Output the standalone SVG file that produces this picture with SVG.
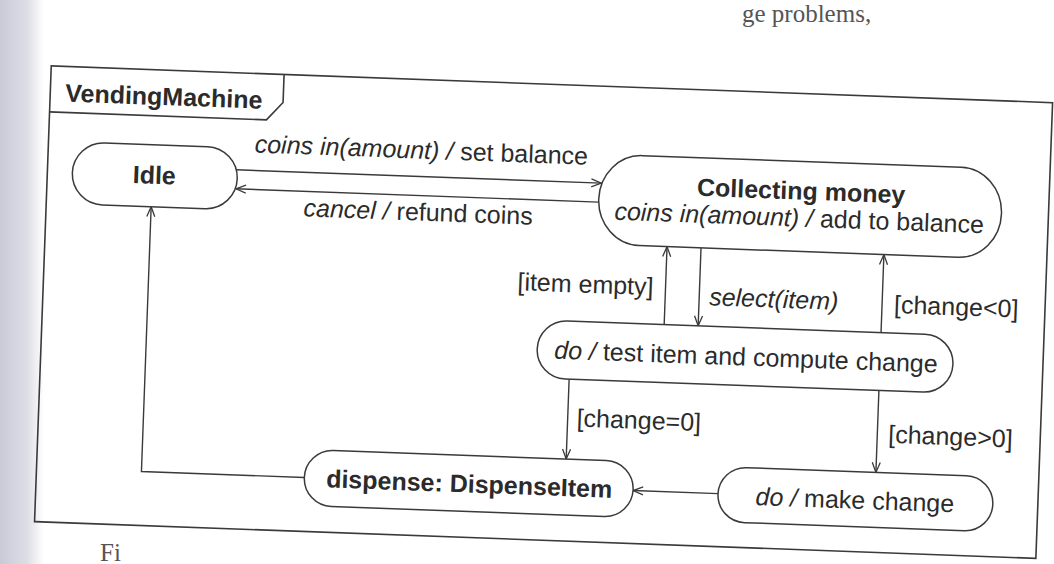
<svg xmlns="http://www.w3.org/2000/svg" width="1054" height="564" viewBox="0 0 1054 564">
<defs>
  <linearGradient id="shade" x1="0" x2="1" y1="0" y2="0">
    <stop offset="0" stop-color="#c9cad6"/>
    <stop offset="0.6" stop-color="#dcdde5"/>
    <stop offset="1" stop-color="#ffffff"/>
  </linearGradient>
  <marker id="arr" viewBox="0 0 12 10" refX="11" refY="5" markerWidth="12" markerHeight="10" markerUnits="userSpaceOnUse" orient="auto">
    <path d="M1,1 L11,5 L1,9" fill="none" stroke="#3a3a3a" stroke-width="1.3"/>
  </marker>
</defs>
<style>
  .frame{fill:none;stroke:#3a3a3a;stroke-width:1.6}
  .state{fill:#fff;stroke:#3a3a3a;stroke-width:1.5}
  .edge{fill:none;stroke:#3a3a3a;stroke-width:1.4;marker-end:url(#arr)}
  text{font-family:"Liberation Sans",Arial,Helvetica,sans-serif;font-size:25px;fill:#2b2b2b}
  .b{font-weight:bold}
  .i{font-style:italic}
  .c{text-anchor:middle}
  .e{text-anchor:end}
  .page{font-family:"Liberation Serif","Times New Roman",serif;fill:#555}
</style>
<rect width="1054" height="564" fill="#ffffff"/>
<rect x="0" y="0" width="44" height="564" fill="url(#shade)"/>
<text class="page" x="742" y="22" font-size="22">ge problems,</text>
<text class="page" x="100" y="561" font-size="20">Fi</text>
<g transform="rotate(2.1 540 300)">
  <g id="frame">
    <rect class="frame" x="43" y="84" width="1002" height="456"/>
    <path class="frame" d="M43,130 H260 L276,112 V84"/>
    <text class="b" x="58" y="119" font-size="24">VendingMachine</text>
  </g>
  <g id="connectors">
    <path class="edge" d="M232,181 H597"/>
    <path class="edge" d="M595,200 H232"/>
    <path class="edge" d="M665,320 V242"/>
    <path class="edge" d="M699,242 V320"/>
    <path class="edge" d="M882,320 V242"/>
    <path class="edge" d="M572,378 V458"/>
    <path class="edge" d="M882,378 V460"/>
    <path class="edge" d="M725,487 H640"/>
    <path class="edge" d="M311,486 H148 V221"/>
    <text class="c" x="416" y="163"><tspan class="i">coins in(amount) /</tspan> set balance</text>
    <text class="c" x="415" y="225"><tspan class="i">cancel /</tspan> refund coins</text>
    <text class="e" x="653" y="291">[item empty]</text>
    <text class="i" x="709" y="299">select(item)</text>
    <text x="894" y="300">[change&lt;0]</text>
    <text x="581" y="425">[change=0]</text>
    <text x="893" y="430">[change&gt;0]</text>
  </g>
  <g id="idle">
    <rect class="state" x="68" y="159" width="165" height="62" rx="31" ry="31"/>
    <text class="b c" x="150" y="198">Idle</text>
  </g>
  <g id="collecting">
    <rect class="state" x="595" y="152" width="403" height="90" rx="42" ry="45"/>
    <text class="b c" x="797" y="190">Collecting money</text>
    <text class="c" x="796" y="217"><tspan class="i">coins in(amount) /</tspan> add to balance</text>
  </g>
  <g id="test">
    <rect class="state" x="539" y="320" width="416" height="58" rx="29" ry="29"/>
    <text class="c" x="748" y="358"><tspan class="i">do /</tspan> test item and compute change</text>
  </g>
  <g id="dispense">
    <rect class="state" x="311" y="458" width="329" height="56" rx="28" ry="28"/>
    <text class="b c" x="476" y="495">dispense: DispenseItem</text>
  </g>
  <g id="makechange">
    <rect class="state" x="725" y="460" width="275" height="55" rx="27.5" ry="27.5"/>
    <text class="c" x="862" y="497"><tspan class="i">do /</tspan> make change</text>
  </g>
</g>
</svg>
